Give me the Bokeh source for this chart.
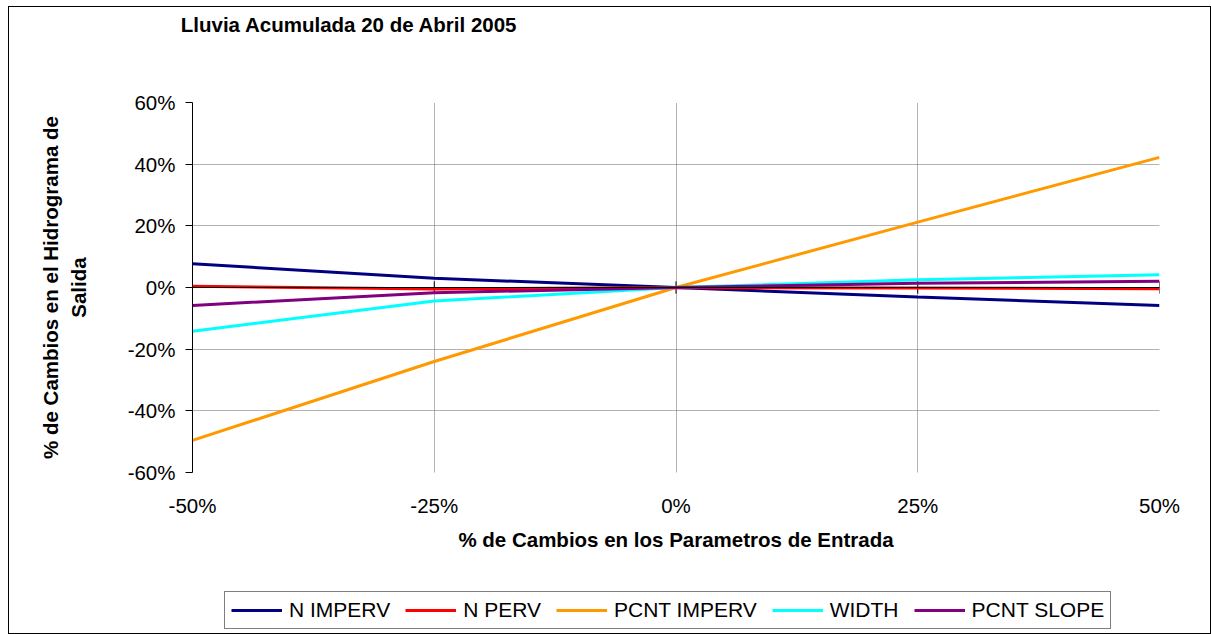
from bokeh.plotting import figure
from bokeh.layouts import column
from bokeh.models import (Range1d, FixedTicker, PrintfTickFormatter, Span,
                          Legend, LegendItem, Label)
from bokeh.embed import file_html
from bokeh.resources import INLINE

# ---- data ----
x_change = [-50, -25, 0, 25, 50]
n_imperv = [7.7, 3.0, 0.0, -3.1, -5.8]
n_perv = [0.4, -0.5, 0.0, -0.2, -0.4]
pcnt_imperv = [-49.6, -24.0, 0.0, 21.2, 42.2]
width_s = [-14.2, -4.4, 0.0, 2.5, 4.1]
pcnt_slope = [-5.8, -1.7, 0.0, 1.4, 2.0]

series_names = ["N IMPERV", "N PERV", "PCNT IMPERV", "WIDTH", "PCNT SLOPE"]
series_vals = [n_imperv, n_perv, pcnt_imperv, width_s, pcnt_slope]
series_colors = ["#000080", "#FF0000", "#FF9900", "#00FFFF", "#800080"]

x_ticks = [-50, -25, 0, 25, 50]
y_ticks = [-60, -40, -20, 0, 20, 40, 60]

title_text = "Lluvia Acumulada 20 de Abril 2005"
x_label = "% de Cambios en los Parametros de Entrada"
y_label = "% de Cambios en el Hidrograma de\nSalida"

FONT = "Liberation Sans"
FS = "20.5px"
W = 1203
BORDER = "1px solid black"


def bare_figure(height, styles, xr, yr):
    f = figure(width=W, height=height, output_backend="svg", toolbar_location=None,
               x_axis_location=None, y_axis_location=None, title_location=None,
               min_border=0, min_border_left=0, min_border_right=0,
               min_border_top=0, min_border_bottom=0, frame_align=False,
               x_range=xr, y_range=yr)
    f.grid.visible = False
    f.outline_line_color = None
    f.background_fill_color = "white"
    f.border_fill_color = "white"
    f.styles = styles
    return f


# ---------- top strip with title ----------
pt = bare_figure(40, {"border-top": BORDER, "border-left": BORDER, "border-right": BORDER},
                 Range1d(0, W - 2), Range1d(0, 39))
pt.add_layout(Label(x=171, y=22.5, text=title_text, text_font=FONT,
                    text_font_size=FS, text_font_style="bold", text_color="black",
                    text_align="left", text_baseline="alphabetic"))

# ---------- main chart ----------
p = figure(width=W, height=539, output_backend="svg", toolbar_location=None,
           x_range=Range1d(-50, 50), y_range=Range1d(-60, 60), title_location=None,
           min_border_left=183, min_border_right=53, min_border_top=56,
           min_border_bottom=113, frame_align=False)
p.styles = {"border-left": BORDER, "border-right": BORDER}
p.outline_line_color = None
p.background_fill_color = "white"
p.border_fill_color = "white"

p.xgrid.ticker = FixedTicker(ticks=x_ticks)
p.ygrid.ticker = FixedTicker(ticks=y_ticks)
for g in (p.xgrid, p.ygrid):
    g.grid_line_color = "#666666"
    g.grid_line_dash = "1 1"
    g.grid_line_width = 1

ya = p.yaxis[0]
ya.ticker = FixedTicker(ticks=y_ticks)
ya.formatter = PrintfTickFormatter(format="%d%%")
ya.axis_line_color = "black"
ya.major_tick_line_color = "black"
ya.major_tick_out = 7
ya.major_tick_in = 0
ya.minor_tick_line_color = None
ya.major_label_standoff = 10
ya.major_label_text_font = FONT
ya.major_label_text_font_size = FS
ya.major_label_text_color = "black"
ya.axis_label = y_label
ya.axis_label_text_font = FONT
ya.axis_label_text_font_size = FS
ya.axis_label_text_font_style = "bold"
ya.axis_label_text_color = "black"
ya.axis_label_standoff = 35

xa = p.xaxis[0]
xa.ticker = FixedTicker(ticks=x_ticks)
xa.formatter = PrintfTickFormatter(format="%d%%")
xa.axis_line_color = None
xa.major_tick_line_color = None
xa.minor_tick_line_color = None
xa.major_tick_out = 0
xa.major_tick_in = 0
xa.major_label_standoff = 21
xa.major_label_text_font = FONT
xa.major_label_text_font_size = FS
xa.major_label_text_color = "black"
xa.axis_label = x_label
xa.axis_label_text_font = FONT
xa.axis_label_text_font_size = FS
xa.axis_label_text_font_style = "bold"
xa.axis_label_text_color = "black"
xa.axis_label_standoff = 8

p.add_layout(Span(location=0, dimension="width", line_color="black", line_width=1))
p.segment(x0=x_ticks, y0=[-2] * len(x_ticks), x1=x_ticks, y1=[2] * len(x_ticks),
          line_color="black", line_width=1)

for name, vals, col in zip(series_names, series_vals, series_colors):
    p.line(x_change, vals, line_color=col, line_width=3)

# ---------- bottom strip with legend ----------
# ranges chosen so the series themselves fall outside this strip's view;
# only their legend samples are shown here
pb = bare_figure(49, {"border-bottom": BORDER, "border-left": BORDER, "border-right": BORDER},
                 Range1d(1000, 2000), Range1d(1000, 2000))
items = []
for name, vals, col in zip(series_names, series_vals, series_colors):
    r = pb.line(x_change, vals, line_color=col, line_width=3)
    items.append(LegendItem(label=name, renderers=[r]))
legend = Legend(items=items, orientation="horizontal", location=(215, 5))
legend.border_line_color = "black"
legend.border_line_width = 1
legend.background_fill_color = "white"
legend.background_fill_alpha = 1
legend.label_text_font = FONT
legend.label_text_font_size = "21px"
legend.label_text_color = "black"
legend.glyph_width = 51
legend.glyph_height = 20
legend.label_standoff = 7
legend.spacing = 15
legend.padding = 6
legend.margin = 0
pb.add_layout(legend, "center")

layout = column(pt, p, pb, spacing=0, styles={"margin-left": "8px", "margin-top": "6px"})

open("out.html", "w").write(file_html(layout, INLINE))
